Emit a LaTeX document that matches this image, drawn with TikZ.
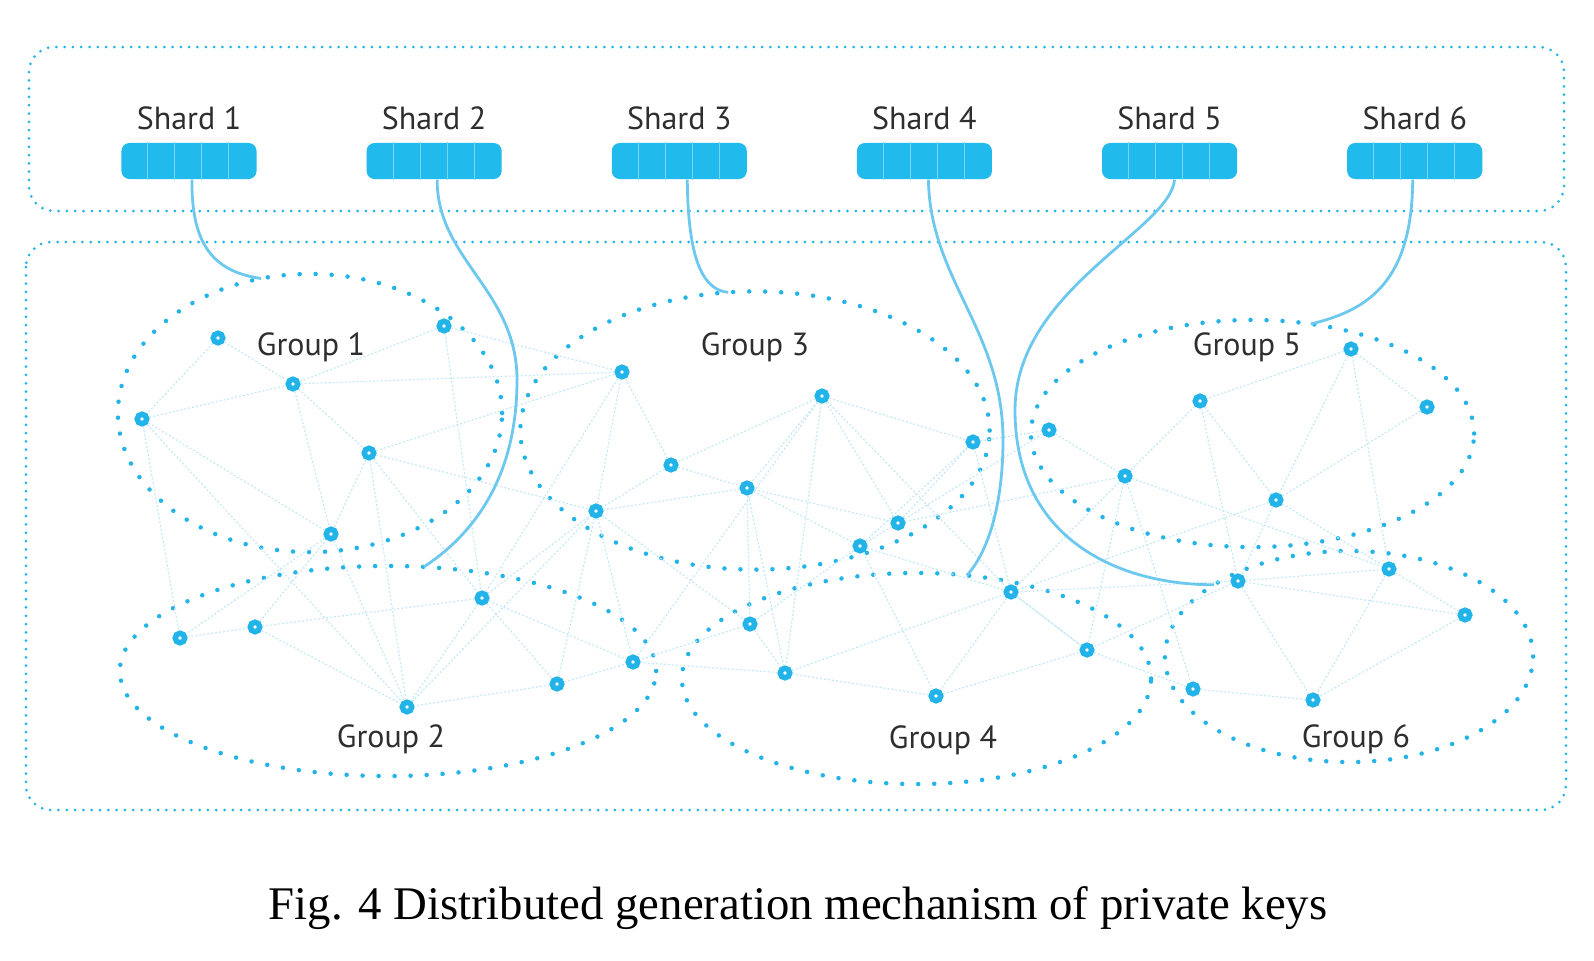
\documentclass[tikz,border=0pt]{standalone}
\usepackage{fontspec}
\setmainfont{Liberation Serif}
\newfontfamily\labelfont{PT Sans}
\usetikzlibrary{positioning, shapes.geometric}
\definecolor{ringblue}{HTML}{22B4E8}
\definecolor{shardblue}{HTML}{20BAEC}
\definecolor{linkblue}{HTML}{C4E8F8}
\definecolor{wireblue}{HTML}{6CC8EE}
\definecolor{textgray}{HTML}{2E2E2E}

\begin{document}
\begin{tikzpicture}[
    x=0.01cm, y=-0.01cm,
    node distance=2.45cm,
    on grid,
    shardbox/.style={rectangle, rounded corners=0.08cm, fill=shardblue, minimum width=1.35cm, minimum height=0.36cm, inner sep=0},
    tagtext/.style={font=\labelfont\fontsize{9.1}{10}\selectfont, text=textgray, inner sep=0},
    groupring/.style={ellipse, draw=ringblue, line width=0.045cm, line cap=round, dash pattern=on 0pt off 0.16cm, inner sep=0, outer sep=0},
    ringdot/.style={circle, draw=ringblue, fill=white, line width=0.055cm, minimum size=0.095cm, inner sep=0},
    linkline/.style={draw=linkblue, line width=0.012cm, dash pattern=on 0.02cm off 0.02cm},
    wireline/.style={draw=wireblue, line width=0.028cm},
    framebox/.style={draw=ringblue, line width=0.03cm, line cap=round, dash pattern=on 0pt off 0.083cm, rounded corners=0.25cm}
]
   \useasboundingbox (0,0) rectangle (1594,960);

   % Frames
   \draw[framebox] (29,47) rectangle (1564,211);
   \draw[framebox] (26,242) rectangle (1566,810);

   % Shards
   \node[shardbox] (s1) at (189,161) {};
   \node[shardbox] (s2) [right=of s1] {};
   \node[shardbox] (s3) [right=of s2] {};
   \node[shardbox] (s4) [right=of s3] {};
   \node[shardbox] (s5) [right=of s4] {};
   \node[shardbox] (s6) [right=of s5] {};
   \foreach \i in {1,...,6}
     \foreach \k in {1,...,4}
       \draw[white!40!shardblue, line width=0.008cm] ([xshift=\k*0.27cm]s\i.south west) -- ([xshift=\k*0.27cm]s\i.north west);

   \node[tagtext] (l1) [above=0.43cm of s1] {Shard 1};
   \node[tagtext] (l2) [above=0.43cm of s2] {Shard 2};
   \node[tagtext] (l3) [above=0.43cm of s3] {Shard 3};
   \node[tagtext] (l4) [above=0.43cm of s4] {Shard 4};
   \node[tagtext] (l5) [above=0.43cm of s5] {Shard 5};
   \node[tagtext] (l6) [above=0.43cm of s6] {Shard 6};

   % Groups
   \node[groupring, minimum width=3.84cm, minimum height=2.78cm] (g1) at (310,413) {};
   \node[groupring, minimum width=5.36cm, minimum height=2.10cm] (g2) at (388,671) {};
   \node[groupring, minimum width=4.69cm, minimum height=2.78cm] (g3) at (755,430.5) {};
   \node[groupring, minimum width=4.69cm, minimum height=2.11cm] (g4) at (916.5,678.5) {};
   \node[groupring, minimum width=4.43cm, minimum height=2.27cm] (g5) at (1252.5,433.5) {};
   \node[groupring, minimum width=3.68cm, minimum height=2.11cm] (g6) at (1349,656.5) {};

   \node[tagtext, anchor=base] (t1) at (311,355) {Group 1};
   \node[tagtext, anchor=base] (t2) at (391,747) {Group 2};
   \node[tagtext, anchor=base] (t3) at (755,355) {Group 3};
   \node[tagtext, anchor=base] (t4) at (943,748) {Group 4};
   \node[tagtext, anchor=base] (t5) at (1247,355) {Group 5};
   \node[tagtext, anchor=base] (t6) at (1356,747) {Group 6};

   % Members
   \node[ringdot] (n1) at (218,338) {};   \node[ringdot] (n2) at (444,326) {};
   \node[ringdot] (n3) at (293,384) {};   \node[ringdot] (n4) at (142,419) {};
   \node[ringdot] (n5) at (369,453) {};   \node[ringdot] (n6) at (331,534) {};
   \node[ringdot] (n7) at (622,372) {};   \node[ringdot] (n8) at (822,396) {};
   \node[ringdot] (n9) at (973,442) {};   \node[ringdot] (n10) at (671,465) {};
   \node[ringdot] (n11) at (747,488) {};  \node[ringdot] (n12) at (596,511) {};
   \node[ringdot] (n13) at (898,523) {};  \node[ringdot] (n14) at (860,546) {};
   \node[ringdot] (n15) at (1351,349) {}; \node[ringdot] (n16) at (1200,401) {};
   \node[ringdot] (n17) at (1427,407) {}; \node[ringdot] (n18) at (1049,430) {};
   \node[ringdot] (n19) at (1125,476) {}; \node[ringdot] (n20) at (1276,500) {};
   \node[ringdot] (n21) at (1389,569) {}; \node[ringdot] (n22) at (1238,581) {};
   \node[ringdot] (n23) at (1465,615) {}; \node[ringdot] (n24) at (1193,689) {};
   \node[ringdot] (n25) at (1313,700) {}; \node[ringdot] (n26) at (1011,592) {};
   \node[ringdot] (n27) at (750,624) {};  \node[ringdot] (n28) at (1087,650) {};
   \node[ringdot] (n29) at (785,673) {};  \node[ringdot] (n30) at (936,696) {};
   \node[ringdot] (n31) at (180,638) {};  \node[ringdot] (n32) at (255,627) {};
   \node[ringdot] (n33) at (482,598) {};  \node[ringdot] (n34) at (633,662) {};
   \node[ringdot] (n35) at (557,684) {};  \node[ringdot] (n36) at (407,707) {};

   % Links
   \path[linkline]
   (n1) edge (n3) (n1) edge (n4) (n3) edge (n2) (n3) edge (n7) (n4) edge (n3) (n3) edge (n6)
   (n3) edge (n5) (n5) edge (n7) (n2) edge (n7) (n2) edge (n33) (n5) edge (n6) (n5) edge (n12)
   (n5) edge (n36) (n5) edge (n33) (n4) edge (n31) (n4) edge (n6) (n4) edge (n36) (n6) edge (n36)
   (n6) edge (n31) (n31) edge (n32) (n32) edge (n33) (n32) edge (n36) (n32) edge (n6) (n33) edge (n36)
   (n33) edge (n35) (n33) edge (n34) (n33) edge (n12) (n33) edge (n7) (n12) edge (n35) (n12) edge (n34)
   (n35) edge (n36) (n35) edge (n34) (n36) edge (n12)
   (n7) edge (n10) (n7) edge (n12) (n8) edge (n10) (n8) edge (n11) (n8) edge (n34) (n8) edge (n9)
   (n8) edge (n13) (n8) edge (n29) (n8) edge (n26) (n10) edge (n11) (n10) edge (n12) (n11) edge (n12)
   (n11) edge (n13) (n11) edge (n14) (n11) edge (n27) (n11) edge (n29) (n12) edge (n27) (n13) edge (n9)
   (n13) edge (n18) (n13) edge (n14) (n13) edge (n19) (n14) edge (n9) (n14) edge (n26) (n14) edge (n27)
   (n14) edge (n30) (n26) edge (n30) (n26) edge (n28) (n26) edge (n9) (n27) edge (n29) (n27) edge (n34)
   (n29) edge (n34) (n29) edge (n30) (n29) edge (n26) (n30) edge (n28)
   (n15) edge (n16) (n15) edge (n17) (n15) edge (n20) (n15) edge (n21) (n16) edge (n19) (n16) edge (n20)
   (n16) edge (n22) (n18) edge (n19) (n17) edge (n20) (n19) edge (n28) (n19) edge (n24) (n19) edge (n21)
   (n20) edge (n22) (n20) edge (n21) (n20) edge (n26) (n22) edge (n26) (n22) edge (n28) (n22) edge (n25)
   (n22) edge (n23) (n22) edge (n21) (n21) edge (n23) (n21) edge (n25) (n23) edge (n25) (n24) edge (n25)
   (n28) edge (n24) (n28) edge (n26) (n18) edge (n9) (n26) edge (n19);

   % Shards to groups
   \draw[wireline] ([xshift=0.03cm]s1.south) .. controls (191,250) and (218,272) .. (g1.110);
   \draw[wireline] ([xshift=0.03cm]s2.south) .. controls (437,260) and (517,290) .. (517,380)
                   .. controls (517,470) and (480,530) .. (g2.71);
   \draw[wireline] ([xshift=0.08cm]s3.south) .. controls (688,265) and (705,290) .. (g3.101);
   \draw[wireline] ([xshift=0.04cm]s4.south) .. controls (930,280) and (1003,330) .. (1003,440)
                   .. controls (1003,500) and (990,550) .. (g4.64);
   \draw[wireline] ([xshift=0.05cm]s5.south) .. controls (1170,230) and (1015,290) .. (1015,410)
                   .. controls (1015,540) and (1120,585) .. (g6.152);
   \draw[wireline] ([xshift=-0.02cm]s6.south) .. controls (1412,280) and (1370,310) .. (g5.62);

   % Caption
   \node[font=\fontsize{13.3}{15}\selectfont, anchor=base, inner sep=0] (cap) at (798,919) {Fig. 4 Distributed generation mechanism of private keys};
\end{tikzpicture}
\end{document}
